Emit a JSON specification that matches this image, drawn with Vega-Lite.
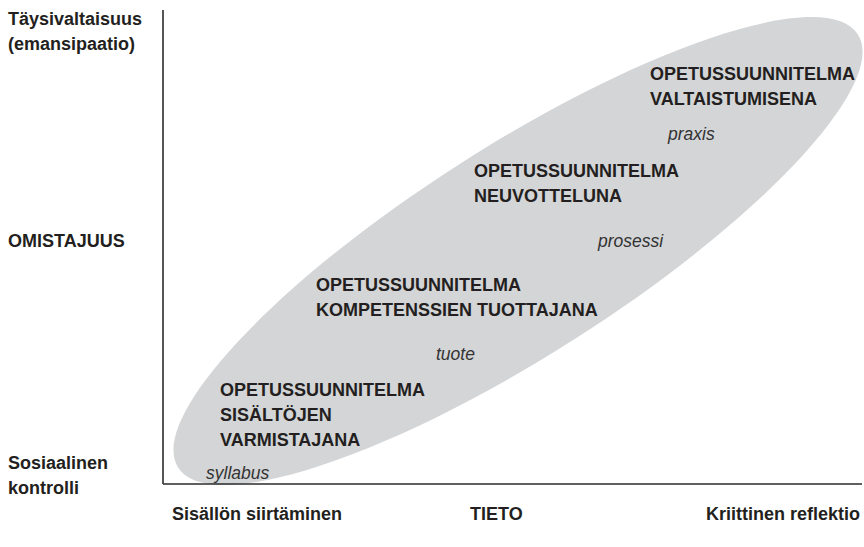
{
  "$schema": "https://vega.github.io/schema/vega-lite/v6.json",
  "width": 864,
  "height": 547,
  "padding": 0,
  "autosize": {"type": "none"},
  "background": "white",
  "config": {"view": {"stroke": null}},
  "datasets": {
    "ellipse": [{"cx": 518, "cy": 251}],
    "axes": [
      {"x": 163, "y": 10, "x2": 163, "y2": 484},
      {"x": 163, "y": 484, "x2": 862, "y2": 484}
    ],
    "boldLeft": [
      {"x": 8, "y": 20, "t": "Täysivaltaisuus\n(emansipaatio)"},
      {"x": 8, "y": 242, "t": "OMISTAJUUS"},
      {"x": 8, "y": 464, "t": "Sosiaalinen\nkontrolli"},
      {"x": 172, "y": 515, "t": "Sisällön siirtäminen"},
      {"x": 470, "y": 515, "t": "TIETO"},
      {"x": 706, "y": 515, "t": "Kriittinen reflektio"},
      {"x": 650, "y": 75, "t": "OPETUSSUUNNITELMA\nVALTAISTUMISENA"},
      {"x": 474, "y": 172, "t": "OPETUSSUUNNITELMA\nNEUVOTTELUNA"},
      {"x": 316, "y": 286, "t": "OPETUSSUUNNITELMA\nKOMPETENSSIEN TUOTTAJANA"},
      {"x": 220, "y": 391, "t": "OPETUSSUUNNITELMA\nSISÄLTÖJEN\nVARMISTAJANA"}
    ],
    "italic": [
      {"x": 668, "y": 135, "t": "praxis"},
      {"x": 598, "y": 242, "t": "prosessi"},
      {"x": 436, "y": 355, "t": "tuote"},
      {"x": 206, "y": 474, "t": "syllabus"}
    ]
  },
  "layer": [
    {
      "data": {"name": "ellipse"},
      "mark": {
        "type": "point",
        "filled": true,
        "shape": "M -1 0 A 1 0.26 0 1 1 1 0 A 1 0.26 0 1 1 -1 0 Z",
        "size": 649636,
        "angle": 327.5,
        "color": "#d4d5d7",
        "opacity": 1,
        "strokeWidth": 0
      },
      "encoding": {
        "x": {"field": "cx", "type": "quantitative", "scale": {"domain": [0, 864], "nice": false, "zero": false}, "axis": null},
        "y": {"field": "cy", "type": "quantitative", "scale": {"domain": [0, 547], "reverse": true, "nice": false, "zero": false}, "axis": null}
      }
    },
    {
      "data": {"name": "axes"},
      "mark": {"type": "rule", "color": "#2b2b2b", "strokeWidth": 1.6},
      "encoding": {
        "x": {"field": "x", "type": "quantitative"},
        "y": {"field": "y", "type": "quantitative"},
        "x2": {"field": "x2"},
        "y2": {"field": "y2"}
      }
    },
    {
      "data": {"name": "boldLeft"},
      "mark": {"type": "text", "font": "Liberation Sans", "fontWeight": "bold", "fontSize": 18, "color": "#231f20", "baseline": "middle", "align": "left", "lineBreak": "\n", "lineHeight": 25},
      "encoding": {
        "x": {"field": "x", "type": "quantitative"},
        "y": {"field": "y", "type": "quantitative"},
        "text": {"field": "t"}
      }
    },
    {
      "data": {"name": "italic"},
      "mark": {"type": "text", "font": "Liberation Sans", "fontStyle": "italic", "fontSize": 17.5, "color": "#333333", "baseline": "middle", "align": "left"},
      "encoding": {
        "x": {"field": "x", "type": "quantitative"},
        "y": {"field": "y", "type": "quantitative"},
        "text": {"field": "t"}
      }
    }
  ]
}
